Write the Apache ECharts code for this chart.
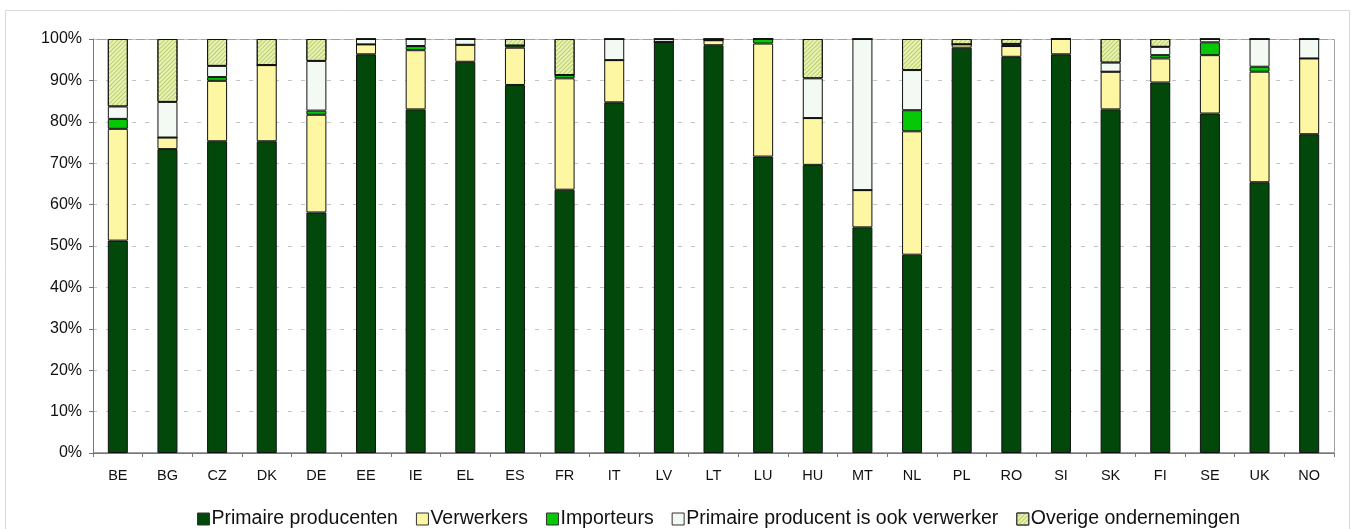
<!DOCTYPE html>
<html><head><meta charset="utf-8">
<script src="https://cdn.jsdelivr.net/npm/echarts@6/dist/echarts.min.js"></script>
<style>html,body{margin:0;padding:0;background:#fff}#c{width:1354px;height:529px}</style>
</head><body><div id="c"></div>
<script>
const categories = ['BE','BG','CZ','DK','DE','EE','IE','EL','ES','FR','IT','LV','LT','LU','HU','MT','NL','PL','RO','SI','SK','FI','SE','UK','NO'];
const primaireProducenten = [51.3,73.4,75.3,75.3,58.1,96.3,83.0,94.5,88.9,63.6,84.7,99.3,98.5,71.6,69.6,54.5,47.9,97.9,95.7,96.3,83.0,89.5,82.0,65.4,77.0];
const verwerkers          = [27.0,2.8,14.6,18.4,23.6,2.4,14.3,4.1,9.0,26.9,10.2,0,1.2,27.3,11.3,9.0,29.8,0.8,2.6,3.7,9.1,5.8,14.1,26.7,18.3];
const importeurs          = [2.4,0,0.9,0,1.0,0,1.0,0,0.5,0.8,0,0,0,1.1,0,0,5.1,0,0,0,0,0.8,3.1,1.2,0];
const ookVerwerker        = [3.0,8.6,2.7,0,12.0,1.3,1.7,1.4,0,0,5.1,0.7,0.3,0,9.6,36.5,9.7,0,0.5,0,2.2,2.0,0.8,6.7,4.7];
const overige             = [16.3,15.2,6.5,6.3,5.3,0,0,0,1.6,8.7,0,0,0,0,9.5,0,7.5,1.3,1.2,0,5.7,1.9,0,0,0];
const yTicks = [0,10,20,30,40,50,60,70,80,90,100];

const font = 'Liberation Sans, Arial, sans-serif';
const names = ['Primaire producenten','Verwerkers','Importeurs','Primaire producent is ook verwerker','Overige ondernemingen'];
const colors = ['#02480a','#fdf6a3','#06c806','#f3f9f3','#e9f2b4'];
const datas = [primaireProducenten, verwerkers, importeurs, ookVerwerker, overige];

const series = datas.map((d,i)=>{
  const s = {
    name: names[i], type:'bar', stack:'total', data:d, barWidth:20,
    itemStyle:{color:colors[i], borderColor:'#111', borderWidth:1},
    emphasis:{disabled:true}
  };
  if(i===4){
    s.itemStyle.decal = {symbol:'rect', symbolSize:1, dashArrayX:[[1,0]], dashArrayY:[1,1.5], rotation:-Math.PI/4, color:'#b7cf6c'};
  }
  return s;
});

const chart = echarts.init(document.getElementById('c'), null, {renderer:'canvas'});
chart.setOption({
  animation:false,
  backgroundColor:'#fff',
  graphic:[{type:'rect', shape:{x:5.5,y:10.5,width:1344,height:540}, style:{fill:'none', stroke:'#d8d8d8', lineWidth:1}, silent:true},
           {type:'rect', shape:{x:93.5,y:39.5,width:1241,height:413}, style:{fill:'none', stroke:'#a0a0a0', lineWidth:1}, silent:true, z:-1}],
  grid:{left:93, right:20, top:39, bottom:76, containLabel:false},
  legend:{
    top:504, left:192, itemWidth:12, itemHeight:12, itemGap:18,
    icon:'rect',
    textStyle:{fontFamily:font, fontSize:19.5, color:'#111', padding:[0,0,0,-3]},
    itemStyle:{borderColor:'#333', borderWidth:1}
  },
  xAxis:{
    type:'category', data:categories,
    axisLine:{lineStyle:{color:'#777'}},
    axisTick:{show:true, alignWithLabel:false, length:4, lineStyle:{color:'#777'}},
    axisLabel:{fontFamily:font, fontSize:14.5, color:'#111', margin:15}
  },
  yAxis:{
    type:'value', min:0, max:100, interval:10,
    axisLine:{show:true, lineStyle:{color:'#777'}},
    axisTick:{show:true, length:4, lineStyle:{color:'#777'}},
    axisLabel:{fontFamily:font, fontSize:16, color:'#111', margin:11, formatter:v=>yTicks.includes(v)?v+'%':''},
    splitLine:{show:true, lineStyle:{color:'#c4c4c4', type:[4,9]}}
  },
  series
});
</script></body></html>
